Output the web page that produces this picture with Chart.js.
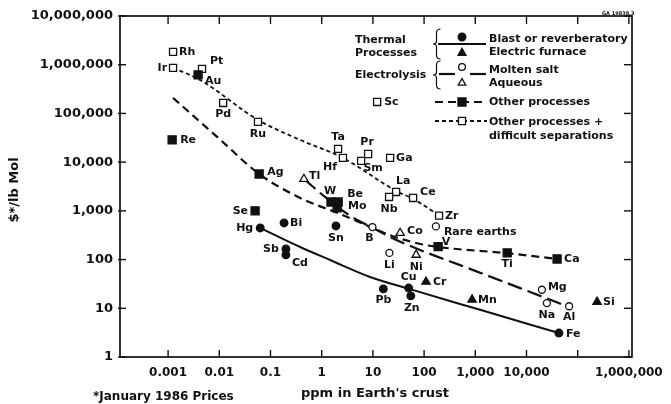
<!DOCTYPE html>
<html><head><meta charset="utf-8">
<script src="https://cdn.jsdelivr.net/npm/chart.js@4.4.1/dist/chart.umd.min.js"></script>
<style>html,body{margin:0;padding:0;background:#fff}#c{display:block}</style>
</head><body>
<canvas id="c" width="671" height="404" style="width:671px;height:404px"></canvas>
<script>
// ---------------- DATA (ppm in Earth's crust, $/lb mol) ----------------
const blastNames = ['Hg','Bi','Sb','Cd','Sn','Pb','Cu','Zn','Fe'];
const blastPpm   = [0.063, 0.184, 0.2, 0.2, 1.9, 16, 50, 55, 43000];
const blastPrice = [446, 564, 165, 125, 490, 25, 26, 18, 3.1];

const furnaceNames = ['Cr','Mn','Si'];
const furnacePpm   = [109, 866, 239000];
const furnacePrice = [35, 15, 13.5];

const saltNames = ['B','Li','Rare earths','Mg','Na','Al'];
const saltPpm   = [9.8, 21, 170, 20000, 25000, 68000];
const saltPrice = [465, 137, 480, 24, 12.8, 11];

const aqueousNames = ['Tl','Co','Ni'];
const aqueousPpm   = [0.45, 34, 70];
const aqueousPrice = [4500, 350, 125];

const otherNames = ['Re','Au','Ag','Se','W','Be','Mo','Rare earths','Ti','Ca'];
const otherPpm   = [0.0012, 0.00385, 0.06, 0.05, 1.52, 2.1, 2.0, 188, 4200, 39600];
const otherPrice = [28600, 617000, 5700, 1000, 1520, 1520, 1150, 185, 137, 103];

const difficultNames = ['Rh','Ir','Pt','Pd','Ru','Ta','Hf','Pr','Sm','Ga','Sc','La','Nb','Ce','Zr'];
const difficultPpm   = [0.00125, 0.00125, 0.0046, 0.0119, 0.057, 2.09, 2.6, 8.06, 5.89, 21.7, 12.1, 28.4, 20.7, 61, 196];
const difficultPrice = [1830000, 860000, 820000, 164000, 67000, 18700, 12200, 14700, 10600, 12200, 172000, 2440, 1930, 1840, 800];

// trend curves
const thermalCurvePpm   = [0.063, 0.38, 1.46, 8.8, 51, 1240, 43000];
const thermalCurvePrice = [446, 181, 98, 44, 25, 9.3, 3.1];

const electroCurvePpm   = [0.45, 1.16, 3.9, 10.1, 23.7, 105, 505, 11800, 68000];
const electroCurvePrice = [4520, 1930, 750, 445, 278, 143, 77, 21.6, 10.6];

const otherCurvePpm   = [0.00125, 0.0091, 0.06, 0.38, 2.29, 11, 23.7, 84, 188, 4180, 39600];
const otherCurvePrice = [208000, 32900, 5720, 1840, 864, 425, 305, 209, 181, 135, 103];

const difficultCurvePpm   = [0.00125, 0.0042, 0.057, 0.38, 2.6, 28.4, 61, 196];
const difficultCurvePrice = [860000, 487000, 73600, 28600, 12200, 2560, 1760, 810];

// axis ticks
const xTickValues = [0.001, 0.01, 0.1, 1, 10, 100, 1000, 10000, 100000, 1000000];
const xTickLabels = ['0.001','0.01','0.1','1','10','100','1,000','10,000','','1,000,000'];
const yTickValues = [1, 10, 100, 1000, 10000, 100000, 1000000, 10000000];
const yTickLabels = ['1','10','100','1,000','10,000','100,000','1,000,000','10,000,000'];

// ---------------- STYLE ----------------
const INK = '#111';
const FONT = '"DejaVu Sans", "Liberation Sans", sans-serif';

// label placement [dx, dy, align, optional text]
const blastPlace = {Hg:[-7,0,'right'], Bi:[6,0,'left'], Sb:[-7,0,'right'], Cd:[6,8,'left'], Sn:[0,12,'center'],
  Pb:[0,11,'center'], Cu:[0,-11,'center'], Zn:[1,12,'center'], Fe:[7,1,'left']};
const furnacePlace = {Cr:[7,0,'left'], Mn:[6,0,'left'], Si:[6,0,'left']};
const saltPlace = {B:[-3,11,'center'], Li:[0,12,'center'], 'Rare earths':[8,6,'left'], Mg:[6,-3,'left'], Na:[0,12,'center'], Al:[0,11,'center']};
const aqueousPlace = {Tl:[5,-3,'left'], Co:[7,-2,'left'], Ni:[0,12,'center']};
const otherPlace = {Re:[8,0,'left'], Au:[7,6,'left'], Ag:[8,-2,'left'], Se:[-7,0,'right'], W:[-1,-11,'center'],
  Be:[9,-8,'left'], Mo:[11,-2,'left'], 'Rare earths':[8,-4,'center','V'], Ti:[0,11,'center'], Ca:[7,0,'left']};
const difficultPlace = {Rh:[6,0,'left'], Ir:[-6,0,'right'], Pt:[8,-8,'left'], Pd:[0,11,'center'], Ru:[0,12,'center'],
  Ta:[0,-12,'center'], Hf:[-13,9,'center'], Pr:[-1,-12,'center'], Sm:[12,7,'center'], Ga:[6,0,'left'], Sc:[7,0,'left'],
  La:[7,-11,'center'], Nb:[0,12,'center'], Ce:[7,-6,'left'], Zr:[6,1,'left']};

const LINE = {
  thermal:   {dash: [], width: 2},
  electro:   {dash: [15, 6], width: 2.2},
  other:     {dash: [8, 5], width: 2.2},
  difficult: {dash: [4, 3], width: 1.8}
};

function pts(xs, ys) { return xs.map((x, i) => ({x: x, y: ys[i]})); }

function markerDs(names, xs, ys, style, filled, radius, place) {
  return {
    data: pts(xs, ys), names: names, placement: place,
    pointStyle: style, pointRadius: radius, pointHoverRadius: radius,
    pointBackgroundColor: filled ? INK : '#fff', pointBorderColor: INK, pointBorderWidth: 1.3,
    showLine: false, order: 1
  };
}
function curveDs(xs, ys, st) {
  return {
    data: pts(xs, ys), showLine: true, pointRadius: 0, borderColor: INK,
    borderWidth: st.width, borderDash: st.dash, cubicInterpolationMode: 'monotone',
    fill: false, order: 2
  };
}

const datasets = [
  markerDs(blastNames, blastPpm, blastPrice, 'circle', true, 3.8, blastPlace),
  markerDs(furnaceNames, furnacePpm, furnacePrice, 'triangle', true, 4.8, furnacePlace),
  markerDs(saltNames, saltPpm, saltPrice, 'circle', false, 3.5, saltPlace),
  markerDs(aqueousNames, aqueousPpm, aqueousPrice, 'triangle', false, 4.8, aqueousPlace),
  markerDs(otherNames, otherPpm, otherPrice, 'rect', true, 5.7, otherPlace),
  markerDs(difficultNames, difficultPpm, difficultPrice, 'rect', false, 5, difficultPlace),
  curveDs(thermalCurvePpm, thermalCurvePrice, LINE.thermal),
  curveDs(electroCurvePpm, electroCurvePrice, LINE.electro),
  curveDs(otherCurvePpm, otherCurvePrice, LINE.other),
  curveDs(difficultCurvePpm, difficultCurvePrice, LINE.difficult)
];

// ---------------- PLUGINS ----------------
function seg(ctx, x1, y1, x2, y2) { ctx.beginPath(); ctx.moveTo(x1, y1); ctx.lineTo(x2, y2); ctx.stroke(); }

const frameTicks = {
  id: 'frameTicks',
  afterDraw(chart) {
    const ctx = chart.ctx, a = chart.chartArea, xs = chart.scales.x, ys = chart.scales.y;
    ctx.save();
    ctx.strokeStyle = INK; ctx.setLineDash([]);
    ctx.lineWidth = 1.7;
    ctx.strokeRect(a.left, a.top, a.right - a.left, a.bottom - a.top);
    ctx.lineWidth = 1.4;
    xs.ticks.forEach(t => {
      const px = xs.getPixelForValue(t.value);
      seg(ctx, px, a.bottom, px, a.bottom - 7);
      seg(ctx, px, a.top, px, a.top + 8);
    });
    ys.ticks.forEach(t => {
      const py = ys.getPixelForValue(t.value);
      seg(ctx, a.left - 2, py, a.left + 6, py);
      seg(ctx, a.right, py, a.right - 8, py);
    });
    ctx.restore();
  }
};

const pointLabels = {
  id: 'pointLabels',
  afterDatasetsDraw(chart) {
    const ctx = chart.ctx;
    ctx.save();
    ctx.font = 'bold 11px ' + FONT;
    ctx.fillStyle = INK;
    ctx.textBaseline = 'middle';
    chart.data.datasets.forEach((ds, di) => {
      if (!ds.names) return;
      const meta = chart.getDatasetMeta(di);
      meta.data.forEach((el, i) => {
        const name = ds.names[i];
        const p = ds.placement[name] || [6, 0, 'left'];
        ctx.textAlign = p[2];
        ctx.fillText(p[3] !== undefined ? p[3] : name, el.x + p[0], el.y + p[1]);
      });
    });
    ctx.restore();
  }
};

function marker(ctx, style, x, y, r, filled) {
  ctx.beginPath();
  if (style === 'circle') ctx.arc(x, y, r, 0, Math.PI * 2);
  else if (style === 'rect') { const h = r * Math.SQRT1_2; ctx.rect(x - h, y - h, 2 * h, 2 * h); }
  else { ctx.moveTo(x, y - r); ctx.lineTo(x + r * 0.866, y + r / 2); ctx.lineTo(x - r * 0.866, y + r / 2); ctx.closePath(); }
  ctx.setLineDash([]);
  ctx.fillStyle = filled ? INK : '#fff'; ctx.fill();
  ctx.lineWidth = 1.3; ctx.strokeStyle = INK; ctx.stroke();
}
function brace(ctx, x, y1, y2) {
  const ym = (y1 + y2) / 2;
  ctx.beginPath();
  ctx.moveTo(x + 4, y1);
  ctx.quadraticCurveTo(x, y1, x, y1 + 4);
  ctx.lineTo(x, ym - 3);
  ctx.quadraticCurveTo(x, ym, x - 3.5, ym);
  ctx.quadraticCurveTo(x, ym, x, ym + 3);
  ctx.lineTo(x, y2 - 4);
  ctx.quadraticCurveTo(x, y2, x + 4, y2);
  ctx.stroke();
}

const legendBox = {
  id: 'legendBox',
  afterDraw(chart) {
    const ctx = chart.ctx;
    ctx.save();
    ctx.strokeStyle = INK; ctx.fillStyle = INK;
    // braces
    ctx.lineWidth = 1.2; ctx.setLineDash([]);
    brace(ctx, 436.5, 29, 59);
    brace(ctx, 436.5, 61, 89);
    // thermal: solid
    ctx.lineWidth = LINE.thermal.width; ctx.setLineDash([]);
    seg(ctx, 438, 44, 486, 44);
    marker(ctx, 'circle', 462, 37, 3.8, true);
    marker(ctx, 'triangle', 462, 53, 4.6, true);
    // electrolysis
    ctx.lineWidth = LINE.electro.width; ctx.setLineDash([]);
    seg(ctx, 439, 74, 455, 74);
    seg(ctx, 470, 74, 486, 74);
    marker(ctx, 'circle', 462, 67, 3.4, false);
    marker(ctx, 'triangle', 462, 83, 4.4, false);
    // other processes
    ctx.lineWidth = LINE.other.width; ctx.setLineDash(LINE.other.dash);
    seg(ctx, 435, 102, 487, 102);
    marker(ctx, 'rect', 462, 102, 5.7, true);
    // other + difficult separations
    ctx.lineWidth = LINE.difficult.width; ctx.setLineDash(LINE.difficult.dash);
    seg(ctx, 435, 121, 487, 121);
    marker(ctx, 'rect', 462, 121, 5, false);
    // texts
    ctx.setLineDash([]);
    ctx.fillStyle = INK;
    ctx.font = 'bold 11px ' + FONT;
    ctx.textBaseline = 'middle'; ctx.textAlign = 'left';
    ctx.fillText('Thermal', 355, 40);
    ctx.fillText('Processes', 355, 53);
    ctx.fillText('Electrolysis', 355, 75);
    ctx.fillText('Blast or reverberatory', 489, 39);
    ctx.fillText('Electric furnace', 489, 52);
    ctx.fillText('Molten salt', 489, 70);
    ctx.fillText('Aqueous', 489, 83);
    ctx.fillText('Other processes', 489, 102);
    ctx.fillText('Other processes +', 489, 122);
    ctx.fillText('difficult separations', 489, 136);
    ctx.restore();
  }
};

const titles = {
  id: 'titles',
  afterDraw(chart) {
    const ctx = chart.ctx;
    ctx.save();
    ctx.fillStyle = INK;
    ctx.textBaseline = 'middle';
    ctx.font = 'bold 13px ' + FONT;
    ctx.textAlign = 'center';
    ctx.fillText("ppm in Earth's crust", 375, 394);
    ctx.save();
    ctx.translate(15, 190);
    ctx.rotate(-Math.PI / 2);
    ctx.fillText('$*/lb Mol', 0, 0);
    ctx.restore();
    ctx.font = 'bold 12px ' + FONT;
    ctx.textAlign = 'left';
    ctx.fillText('*January 1986 Prices', 93, 397);
    ctx.font = 'bold 5px ' + FONT;
    ctx.fillText('GA 19838.3', 602, 14);
    ctx.restore();
  }
};

new Chart(document.getElementById('c'), {
  type: 'scatter',
  data: { datasets: datasets },
  options: {
    responsive: false, animation: false, devicePixelRatio: 1, events: [],
    layout: { padding: { left: 0, top: 16, right: 39, bottom: 0 } },
    plugins: { legend: { display: false }, tooltip: { enabled: false } },
    scales: {
      x: {
        type: 'logarithmic', position: 'bottom', min: 1.15e-4, max: 1.15e6,
        grid: { display: false, drawTicks: false }, border: { display: false },
        afterBuildTicks: s => { s.ticks = xTickValues.map(v => ({ value: v })); },
        ticks: {
          autoSkip: false, maxRotation: 0, minRotation: 0, padding: 9, color: INK,
          font: { family: FONT, size: 12, weight: 'bold' },
          callback: v => { const i = xTickValues.indexOf(v); return i >= 0 ? xTickLabels[i] : ''; }
        },
        afterFit: s => { s.height = 47; s.paddingLeft = 0; s.paddingRight = 0; }
      },
      y: {
        type: 'logarithmic', position: 'left', min: 1, max: 1e7,
        grid: { display: false, drawTicks: false }, border: { display: false },
        afterBuildTicks: s => { s.ticks = yTickValues.map(v => ({ value: v })); },
        ticks: {
          autoSkip: false, padding: 7, color: INK,
          font: { family: FONT, size: 13, weight: 'bold' },
          callback: v => { const i = yTickValues.indexOf(v); return i >= 0 ? yTickLabels[i] : ''; }
        },
        afterFit: s => { s.width = 120; s.paddingTop = 0; s.paddingBottom = 0; }
      }
    }
  },
  plugins: [frameTicks, pointLabels, legendBox, titles]
});
</script>
</body></html>
